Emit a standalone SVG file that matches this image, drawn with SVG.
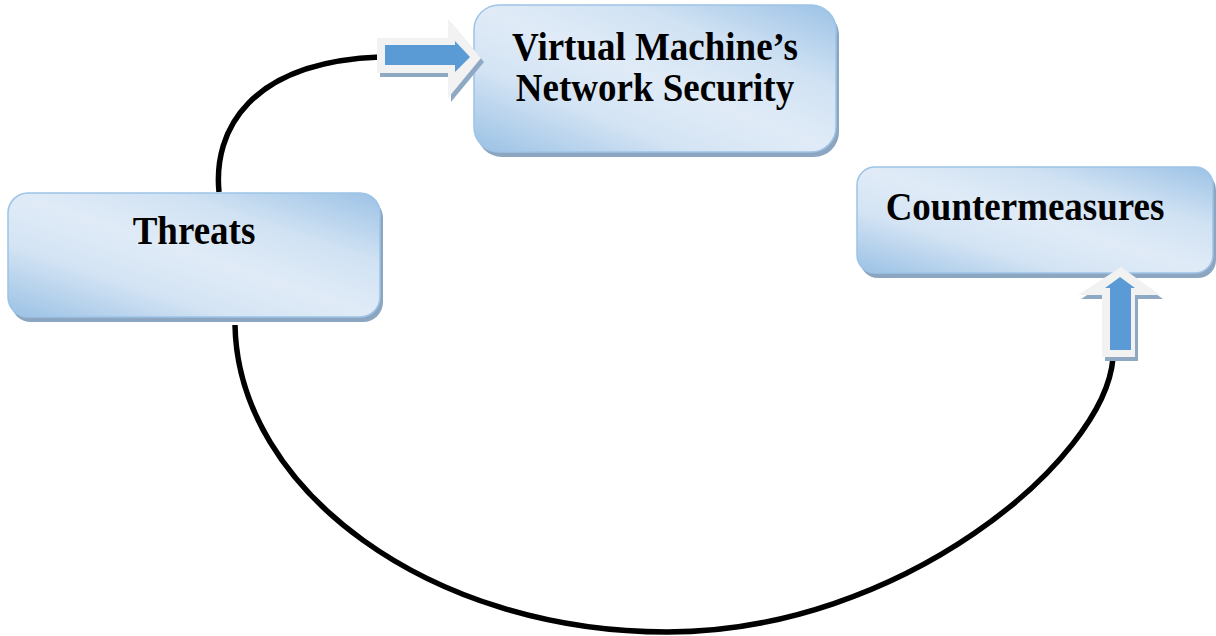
<svg xmlns="http://www.w3.org/2000/svg" width="1216" height="636" viewBox="0 0 1216 636">
  <defs>
    <linearGradient id="boxFill" x1="0" y1="1" x2="1" y2="0">
      <stop offset="0" stop-color="#9ac1e5"/>
      <stop offset="0.3" stop-color="#d4e4f4"/>
      <stop offset="0.5" stop-color="#e0ebf7"/>
      <stop offset="0.72" stop-color="#d0e2f3"/>
      <stop offset="1" stop-color="#9cc2e6"/>
    </linearGradient>
    <style>
      .box { fill: url(#boxFill); stroke: #9dc3e6; stroke-width: 1.5; }
      .shadow { fill: #8ca6c2; }
      .label { font-family: "Liberation Serif", "Times New Roman", serif; font-weight: bold; font-size: 37px; fill: #000; text-anchor: middle; }
      .curve { fill: none; stroke: #000; stroke-width: 5.5; stroke-linecap: butt; }
      .arrow-outer { fill: #f2f2f2; }
      .arrow-shadow { fill: #8fa8c3; }
      .arrow-inner { fill: #5b9bd5; }
    </style>
  </defs>

  <rect width="1216" height="636" fill="#ffffff"/>

  <!-- connecting curves -->
  <g id="connectors">
    <path class="curve" d="M219,192 C213,130 250,62 380,57"/>
    <path class="curve" d="M235,325 C238,490 430,632 667,632 C900,632 1105,460 1113,358"/>
  </g>

  <!-- nodes -->
  <g id="node-vm">
    <rect class="shadow" x="477" y="10" width="362" height="147" rx="25"/>
    <rect class="box" x="474" y="5" width="362" height="147" rx="25"/>
    <text class="label" transform="translate(655,60) scale(1,1.1)">Virtual Machine’s</text>
    <text class="label" transform="translate(655,101) scale(1,1.1)">Network Security</text>
  </g>

  <g id="node-threats">
    <rect class="shadow" x="11" y="198" width="372" height="124" rx="20"/>
    <rect class="box" x="8" y="193" width="372" height="124" rx="20"/>
    <text class="label" transform="translate(194,244) scale(1,1.1)">Threats</text>
  </g>

  <g id="node-countermeasures">
    <rect class="shadow" x="860" y="172" width="356" height="106" rx="18"/>
    <rect class="box" x="857" y="167" width="356" height="106" rx="18"/>
    <text class="label" transform="translate(1025,220) scale(1,1.1)">Countermeasures</text>
  </g>

  <!-- block arrows -->
  <g id="arrow-right">
    <polygon class="arrow-shadow" points="380,42 451,42 451,23 484,62 451,102 451,77 380,77"/>
    <polygon class="arrow-outer" points="377,38 448,38 448,19 481,58 448,98 448,73 377,73"/>
    <polygon class="arrow-inner" points="385,45 455,45 455,41 470,57 455,72 455,65 385,65"/>
  </g>

  <g id="arrow-up">
    <polygon class="arrow-shadow" points="1124,271 1163,299 1138,299 1138,361 1105,361 1105,299 1081,299"/>
    <polygon class="arrow-outer" points="1121,267 1160,295 1135,295 1135,357 1102,357 1102,295 1078,295"/>
    <polygon class="arrow-inner" points="1120,277 1135,288 1131,288 1131,350 1110,350 1110,288 1105,288"/>
  </g>
</svg>
